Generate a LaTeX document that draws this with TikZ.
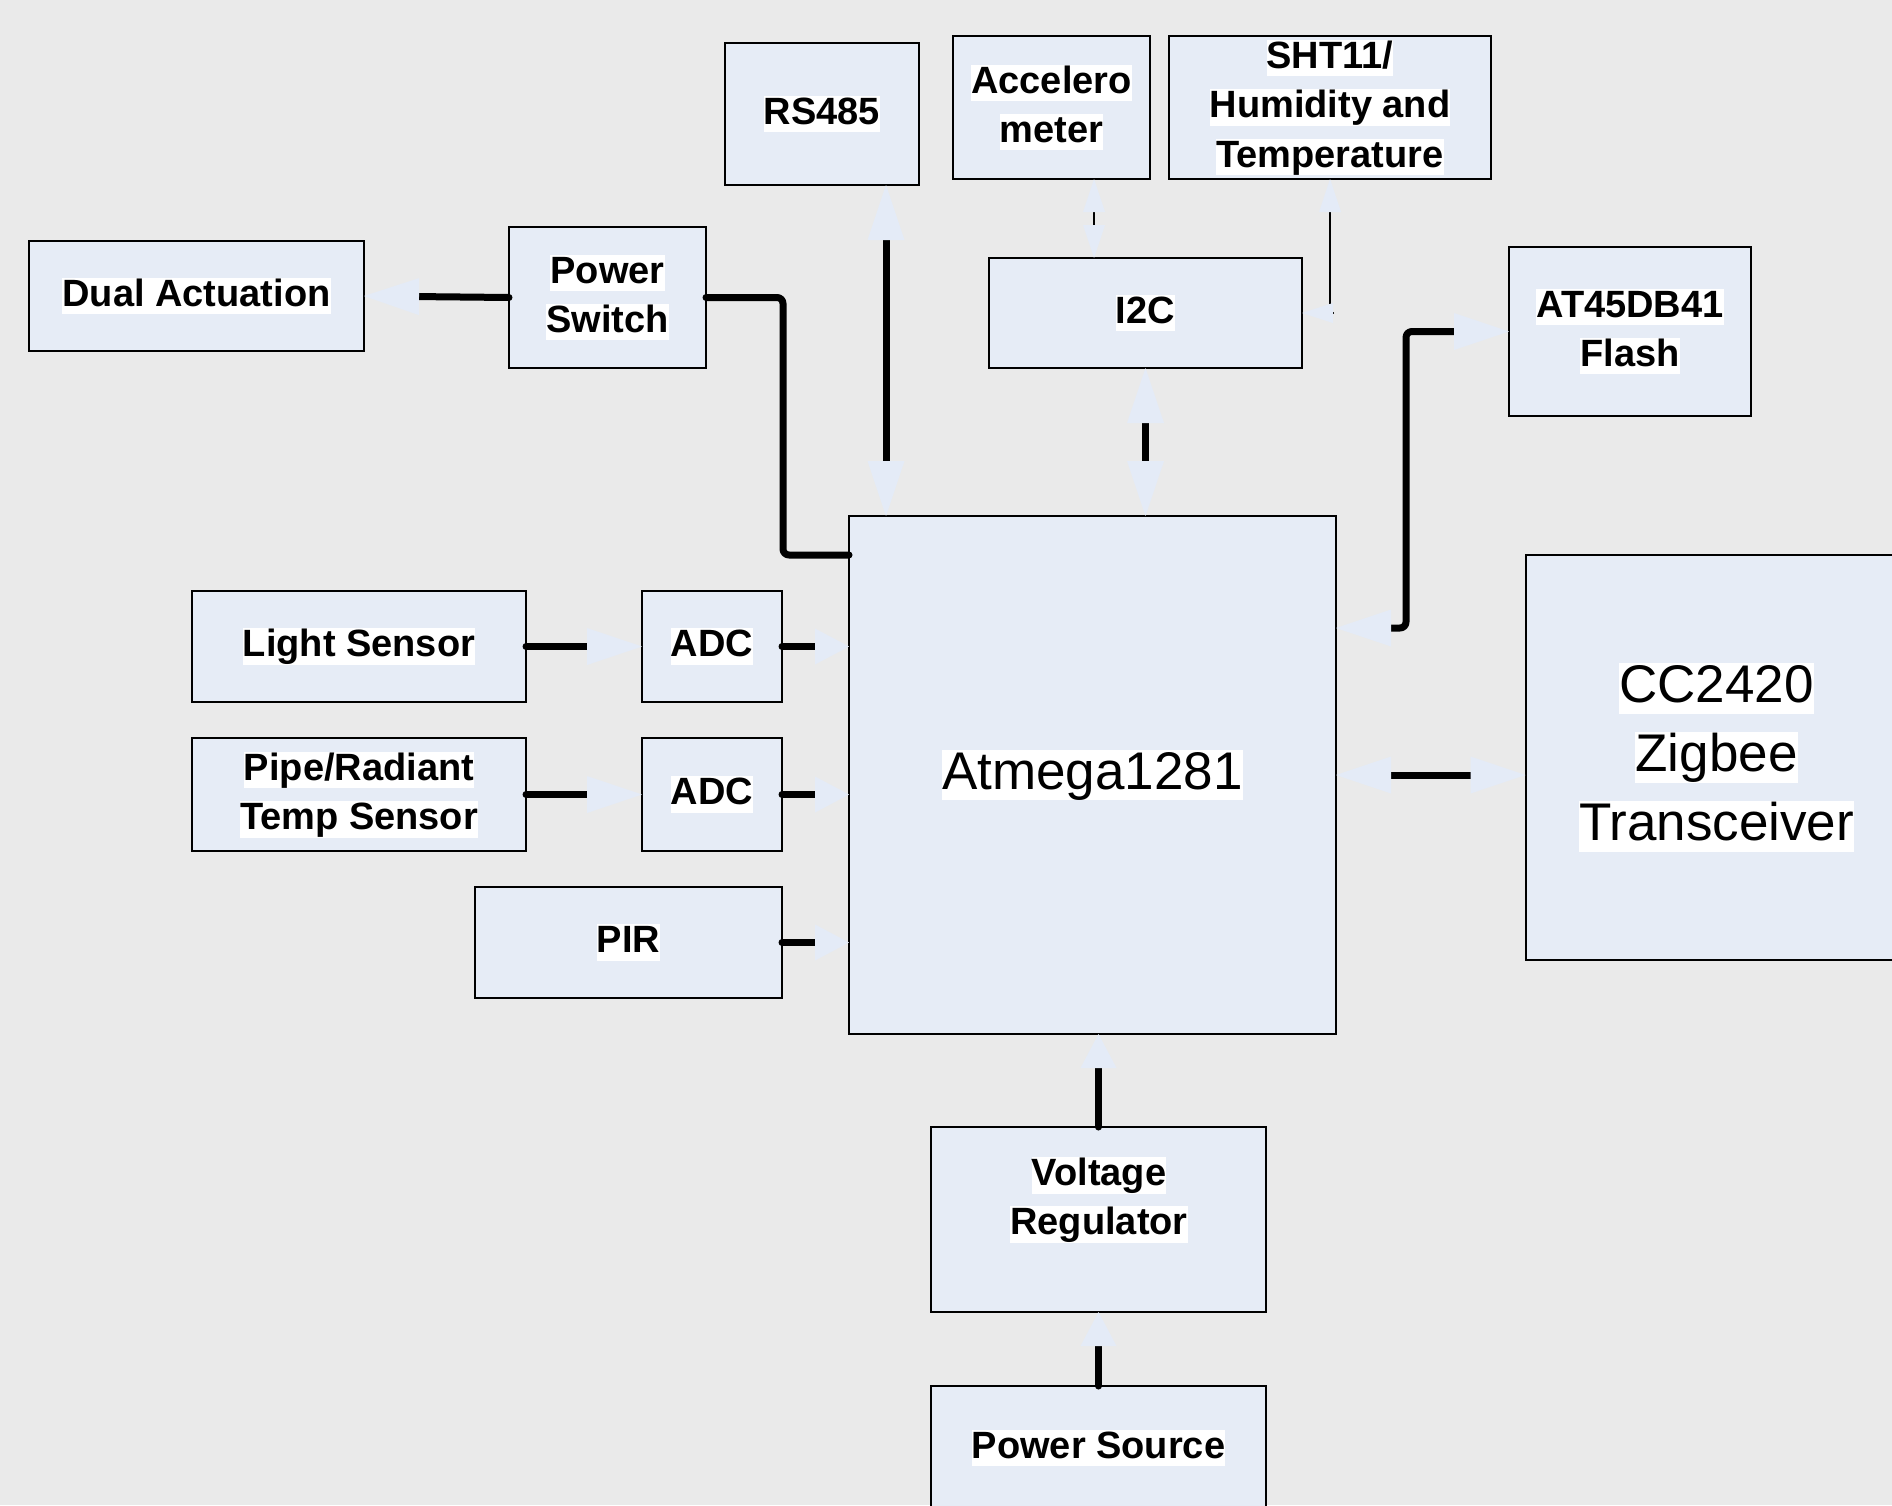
\documentclass[tikz,border=0pt]{standalone}
\usepackage{fontspec}
\setmainfont{Liberation Sans}
\usetikzlibrary{arrows.meta}
\definecolor{bgc}{RGB}{234,234,234}
\definecolor{boxc}{RGB}{230,236,246}
\definecolor{tipc}{RGB}{228,235,247}
\setlength{\fboxsep}{0pt}
\newcommand{\hl}[1]{\colorbox{white}{\rule[-0.21em]{0pt}{0.96em}#1}}
\tikzset{
  box/.style={draw=black,line width=2pt,fill=boxc,inner sep=0pt,outer sep=0pt,align=center,font=\bfseries\fontsize{38}{49.5}\selectfont},
  bigfont/.style={font=\fontsize{53}{69}\selectfont},
  lbl/.style={inner sep=0pt,align=center,font=\bfseries\fontsize{38}{49.5}\selectfont},
  conn/.style={line width=7pt,line cap=round,line join=round,draw=black},
  thinconn/.style={line width=2.5pt,line cap=round,draw=black},
  bigtip/.tip={Triangle[length=55pt,width=37pt,line width=0pt,color=tipc]},
  smalltip/.tip={Triangle[length=34pt,width=36pt,line width=0pt,color=tipc]},
  thintip/.tip={Triangle[length=33pt,width=22pt,line width=0pt,color=tipc]},
  sidetip/.tip={Triangle[length=31pt,width=20pt,line width=0pt,color=tipc]},
}
\begin{document}
\begin{tikzpicture}[x=1pt,y=-1pt]
\useasboundingbox (0,0) rectangle (1892,1505);
\clip (0,0) rectangle (1892,1505);
\fill[bgc] (0,0) rectangle (1892,1505);

% boxes
\node[box,minimum width=335pt,minimum height=110pt] (dual) at (196.5,296) {\hl{Dual Actuation}};
\node[box,minimum width=197pt,minimum height=141pt] (psw) at (607.5,297.5) {\hl{Power}\\\hl{Switch}};
\node[box,minimum width=194pt,minimum height=142pt] (rs) at (822,114) {\hl{RS485}};
\node[box,minimum width=197pt,minimum height=143pt] (acc) at (1051.5,107.5) {\hl{Accelero}\\\hl{meter}};
\node[box,minimum width=322pt,minimum height=143pt] (sht) at (1330,107.5) {\hl{SHT11/}\\\hl{Humidity and}\\\hl{Temperature}};
\node[box,minimum width=313pt,minimum height=110pt] (i2c) at (1145.5,313) {\hl{I2C}};
\node[box,minimum width=242pt,minimum height=169pt] (flash) at (1630,331.5) {\hl{AT45DB41}\\\hl{Flash}};
\node[box,minimum width=334pt,minimum height=111pt] (light) at (359,646.5) {\hl{Light Sensor}};
\node[box,minimum width=140pt,minimum height=111pt] (adc1) at (712,646.5) {\hl{ADC}};
\node[box,minimum width=334pt,minimum height=113pt] (pipe) at (359,794.5) {\hl{Pipe/Radiant}\\\hl{Temp Sensor}};
\node[box,minimum width=140pt,minimum height=113pt] (adc2) at (712,794.5) {\hl{ADC}};
\node[box,minimum width=307pt,minimum height=111pt] (pir) at (628.5,942.5) {\hl{PIR}};
\node[box,bigfont,minimum width=487pt,minimum height=518pt] (atm) at (1092.5,775) {\hl{Atmega1281}};
\node[box,bigfont,minimum width=382pt,minimum height=405pt] (cc) at (1716.5,757.5) {\hl{CC2420}\\\hl{Zigbee}\\\hl{Transceiver}};
\node[box,minimum width=335pt,minimum height=185pt] (vreg) at (1098.5,1219.5) {};
\node[lbl] (vregtxt) at (1099,1200) {\hl{Voltage}\\\hl{Regulator}};
\node[box,minimum width=335pt,minimum height=124pt] (psrc) at (1098.5,1448) {\hl{Power Source}};

% connectors
\draw[conn,-bigtip] (psw.west) -- (dual.east);
\draw[conn,rounded corners=6pt] (psw.east) -- (783,297.5) -- (783,555) -- (atm.west |- 0,555);
\draw[conn,bigtip-bigtip] (rs.south -| 886,0) -- (886,0 |- atm.north);
\draw[thinconn,thintip-thintip] (acc.south -| 1094,0) -- (1094,0 |- i2c.north);
\draw[thinconn,thintip-] (sht.south) -- (1330,304);
\draw[thinconn,line cap=butt,-sidetip] (1334,313) -- (i2c.east);
\draw[conn,bigtip-bigtip] (i2c.south) -- (i2c.south |- atm.north);
\draw[conn,rounded corners=6pt,bigtip-bigtip] (atm.east |- 0,628) -- (1406,628) -- (1406,331.5) -- (flash.west);
\draw[conn,bigtip-bigtip] (atm.east) -- (atm.east -| cc.west);
\draw[conn,-bigtip] (light.east) -- (adc1.west);
\draw[conn,-smalltip] (adc1.east) -- (adc1.east -| atm.west);
\draw[conn,-bigtip] (pipe.east) -- (adc2.west);
\draw[conn,-smalltip] (adc2.east) -- (adc2.east -| atm.west);
\draw[conn,-smalltip] (pir.east) -- (pir.east -| atm.west);
\draw[conn,-smalltip] (vreg.north) -- (vreg.north |- atm.south);
\draw[conn,-smalltip] (psrc.north) -- (vreg.south);
\end{tikzpicture}
\end{document}
